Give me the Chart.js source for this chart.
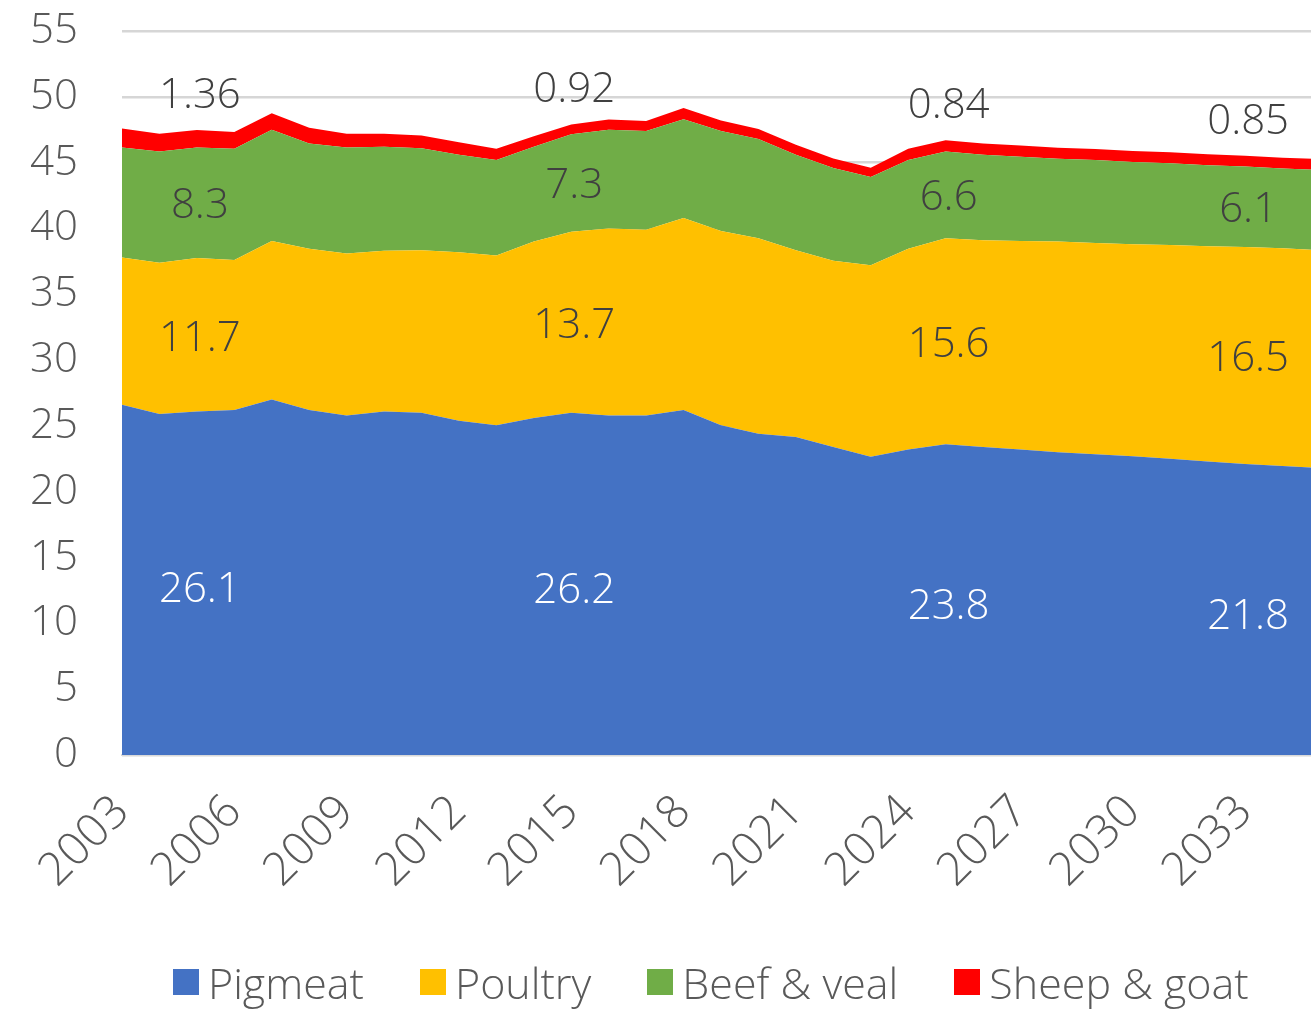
<!DOCTYPE html>
<html>
<head>
<meta charset="utf-8">
<script src="https://cdn.jsdelivr.net/npm/chart.js@4.4.1/dist/chart.umd.min.js"></script>
<style>
  html, body { margin: 0; padding: 0; background: #fff; overflow: hidden; }
  #wrap { width: 1320px; height: 1009px; position: relative; }
  #legend { position: absolute; left: 173px; top: 957px; height: 50px; display: flex; align-items: center;
            font-family: 'Open Sans', 'Liberation Sans', sans-serif; font-weight: 300; font-size: 43px;
            color: #595959; line-height: 1; white-space: nowrap; }
  #legend .item { display: flex; align-items: center; margin-right: 56px; }
  #legend .box { width: 26px; height: 26px; margin-right: 9px; }
</style>
</head>
<body>
<div id="wrap">
  <canvas id="meatChart"></canvas>
  <div id="legend"></div>
</div>
<script>
// Datos (consumo per cápita, kg)
const years = ['2003','2004','2005','2006','2007','2008','2009','2010','2011','2012','2013',
  '2014','2015','2016','2017','2018','2019','2020','2021','2022','2023','2024',
  '2025','2026','2027','2028','2029','2030','2031','2032','2033','2034','2035'];
const tickYears = ['2003','2006','2009','2012','2015','2018','2021','2024','2027','2030','2033'];

const pigmeat = [26.6, 25.9, 26.1, 26.2, 27.0, 26.2, 25.8, 26.1, 26.0, 25.4, 25.05,
  25.6, 26.0, 25.8, 25.8, 26.2, 25.05, 24.4, 24.15, 23.4, 22.65, 23.2,
  23.6, 23.4, 23.2, 23.0, 22.85, 22.7, 22.5, 22.3, 22.1, 21.95, 21.8];
const poultry = [11.2, 11.5, 11.65, 11.4, 12.05, 12.25, 12.3, 12.2, 12.35, 12.8, 12.9,
  13.4, 13.75, 14.2, 14.1, 14.6, 14.75, 14.85, 14.2, 14.15, 14.55, 15.25,
  15.65, 15.7, 15.85, 16.0, 16.05, 16.1, 16.25, 16.35, 16.5, 16.55, 16.55];
const beef = [8.35, 8.45, 8.4, 8.45, 8.45, 8.0, 8.05, 7.9, 7.75, 7.4, 7.25,
  7.2, 7.4, 7.5, 7.5, 7.5, 7.6, 7.55, 7.25, 7.05, 6.7, 6.75,
  6.6, 6.5, 6.4, 6.3, 6.3, 6.25, 6.2, 6.15, 6.1, 6.05, 6.1];
const sheep = [1.45, 1.35, 1.32, 1.28, 1.25, 1.2, 1.05, 1.0, 0.97, 0.95, 0.85,
  0.8, 0.75, 0.78, 0.76, 0.85, 0.8, 0.75, 0.75, 0.72, 0.72, 0.85,
  0.85, 0.85, 0.85, 0.84, 0.84, 0.84, 0.84, 0.84, 0.83, 0.83, 0.82];

// Etiquetas escritas sobre las áreas
const labelYears = ['2005', '2015', '2025', '2033'];
const pigLabels = ['26.1', '26.2', '23.8', '21.8'];
const poultryLabels = ['11.7', '13.7', '15.6', '16.5'];
const beefLabels = ['8.3', '7.3', '6.6', '6.1'];
const sheepLabels = ['1.36', '0.92', '0.84', '0.85'];

const FONT = "'Open Sans', 'Liberation Sans', sans-serif";
Chart.defaults.font.family = FONT;
Chart.defaults.font.weight = '300';
Chart.defaults.color = '#595959';

// Plugin para dibujar los valores en el centro de cada franja
const segmentLabels = {
  id: 'segmentLabels',
  afterDatasetsDraw(chart) {
    const { ctx, scales: { x, y } } = chart;
    ctx.save();
    ctx.font = '300 42px ' + FONT;
    ctx.textAlign = 'center';
    ctx.textBaseline = 'middle';
    labelYears.forEach((yr, k) => {
      const i = years.indexOf(yr);
      const px = x.getPixelForValue(i) + 3;
      const b1 = pigmeat[i];
      const b2 = b1 + poultry[i];
      const b3 = b2 + beef[i];
      const b4 = b3 + sheep[i];
      ctx.fillStyle = '#ffffff';
      ctx.fillText(pigLabels[k], px, y.getPixelForValue(b1 / 2) + 7);
      ctx.fillStyle = '#404040';
      ctx.fillText(poultryLabels[k], px, y.getPixelForValue((b1 + b2) / 2) + 4);
      ctx.fillText(beefLabels[k], px, y.getPixelForValue((b2 + b3) / 2) + 3);
      ctx.fillText(sheepLabels[k], px, y.getPixelForValue(b4) - 34);
    });
    ctx.restore();
  }
};

function area(label, data, color, fill) {
  return {
    label: label,
    data: data,
    backgroundColor: color,
    borderColor: color,
    borderWidth: 0,
    pointRadius: 0,
    fill: fill,
    tension: 0
  };
}

const ctx = document.getElementById('meatChart').getContext('2d');
const chart = new Chart(ctx, {
  type: 'line',
  data: {
    labels: years,
    datasets: [
      area('Pigmeat', pigmeat, '#4472C4', 'origin'),
      area('Poultry', poultry, '#FFC000', '-1'),
      area('Beef & veal', beef, '#70AD47', '-1'),
      area('Sheep & goat', sheep, '#FF0000', '-1')
    ]
  },
  options: {
    responsive: true,
    maintainAspectRatio: false,
    animation: false,
    layout: { padding: { top: 31, left: 0, right: 0, bottom: 104 } },
    plugins: {
      title: { display: false },
      tooltip: { enabled: false },
      legend: { display: false }
    },
    scales: {
      x: {
        offset: false,
        grid: { display: false },
        border: { display: true, color: '#d9d9d9', width: 2 },
        ticks: {
          autoSkip: false,
          maxRotation: 45,
          minRotation: 45,
          padding: 22,
          color: '#595959',
          font: { size: 46, weight: '300' },
          callback: function(value) {
            const lab = this.getLabelForValue(value);
            return tickYears.includes(lab) ? lab : '';
          }
        },
        afterFit: function(scale) {
          scale.height = 150;
          scale.paddingLeft = 0;
          scale.paddingRight = 0;
        }
      },
      y: {
        stacked: true,
        min: 0,
        max: 55,
        grid: { color: '#d6d6d6', lineWidth: 2.5, drawTicks: false },
        border: { display: false },
        ticks: {
          stepSize: 5,
          padding: 44,
          color: '#595959',
          font: { size: 42, weight: '300' }
        },
        afterFit: function(scale) {
          scale.width = 122;
          scale.paddingTop = 0;
          scale.paddingBottom = 0;
        }
      }
    }
  },
  plugins: [segmentLabels]
});

// Leyenda en HTML con los colores de cada serie
document.getElementById('legend').innerHTML = chart.data.datasets.map(ds =>
  `<span class="item"><span class="box" style="background:${ds.backgroundColor}"></span>${ds.label}</span>`
).join('');
</script>
</body>
</html>
